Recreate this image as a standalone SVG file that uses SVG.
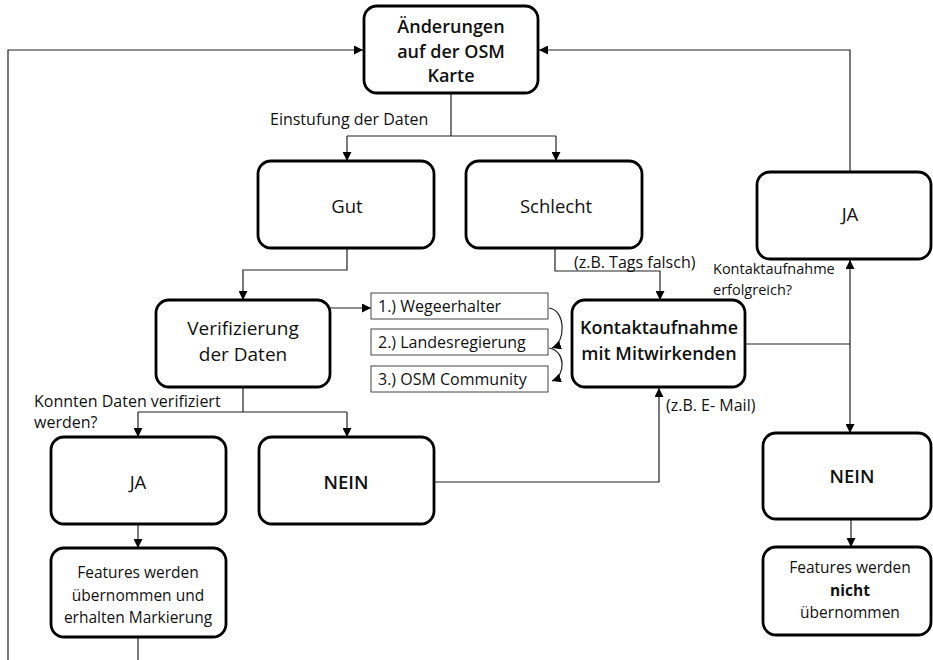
<svg xmlns="http://www.w3.org/2000/svg" width="933" height="660" viewBox="0 0 933 660">
<defs>
<marker id="ah" viewBox="0 0 10 10" refX="10" refY="5" markerWidth="9" markerHeight="9" markerUnits="userSpaceOnUse" orient="auto">
<path d="M0,0 L10,5 L0,10 z" fill="#000"/>
</marker>
<style>
.node{fill:#fff;stroke:#000;stroke-width:2.8}
.small{fill:#fff;stroke:#444;stroke-width:1}
.con{fill:none;stroke:#222;stroke-width:1.2}
.arr{marker-end:url(#ah)}
text{font-family:"Open Sans","Liberation Sans",sans-serif;fill:#111}
.t18{font-size:18px;text-anchor:middle}
.t19{font-size:19px;text-anchor:middle}
.tb{font-weight:600}
.t17{font-size:18.5px;text-anchor:middle}
.lab{font-size:16px}
.lab2{font-size:14.5px}
.bx{font-size:16px}
.ft{font-size:15.5px;text-anchor:middle}
</style>
</defs>
<rect width="933" height="660" fill="#fff"/>
<g id="connectors">
<path class="con" d="M138,637 V660"/>
<path class="con arr" d="M8,660 V50 H363"/>
<path class="con arr" d="M850,172 V50 H539"/>
<path class="con" d="M451,93 V136 M347,136 H556"/>
<path class="con arr" d="M347,136 V161"/>
<path class="con arr" d="M556,136 V161"/>
<path class="con arr" d="M347,248 V270 H243 V300"/>
<path class="con arr" d="M555,248 V271 H660 V300"/>
<path class="con arr" d="M330,308 H371"/>
<path class="con arr" d="M549,308 C566,310 566,343 552,348"/>
<path class="con arr" d="M549,348 C566,351 566,376 552,381"/>
<path class="con" d="M243,387 V412 M138,412 H347"/>
<path class="con arr" d="M138,412 V437"/>
<path class="con arr" d="M347,412 V437"/>
<path class="con arr" d="M434,482 H659 V388"/>
<path class="con" d="M745,344 H850"/>
<path class="con arr" d="M850,344 V260"/>
<path class="con arr" d="M850,344 V433"/>
<path class="con arr" d="M138,524 V548"/>
<path class="con arr" d="M851,519 V547"/>
</g>
<g id="n_aenderungen">
<rect class="node" x="364" y="6" width="174" height="87" rx="13"/>
<text class="t18 tb" x="451" y="33">Änderungen</text>
<text class="t18 tb" x="451" y="58">auf der OSM</text>
<text class="t18 tb" x="451" y="82">Karte</text>
</g>
<text class="lab" x="270" y="125">Einstufung der Daten</text>
<g id="n_gut">
<rect class="node" x="258" y="161" width="176" height="87" rx="13"/>
<text class="t17" x="347" y="213">Gut</text>
</g>
<g id="n_schlecht">
<rect class="node" x="466" y="161" width="176" height="87" rx="13"/>
<text class="t17" x="556" y="213">Schlecht</text>
</g>
<text class="lab" x="574" y="268">(z.B. Tags falsch)</text>
<g id="n_ja_right">
<rect class="node" x="757" y="172" width="174" height="87" rx="13"/>
<text class="t17" x="850" y="221">JA</text>
</g>
<text class="lab2" x="713" y="274">Kontaktaufnahme</text>
<text class="lab2" x="713" y="295">erfolgreich?</text>
<g id="n_verifizierung">
<rect class="node" x="156" y="300" width="174" height="87" rx="13"/>
<text class="t19" x="243" y="335">Verifizierung</text>
<text class="t19" x="243" y="361">der Daten</text>
</g>
<g id="n_wegeerhalter">
<rect class="small" x="371" y="293" width="177" height="26"/>
<text class="bx" x="378" y="312">1.) Wegeerhalter</text>
</g>
<g id="n_landesregierung">
<rect class="small" x="371" y="329" width="177" height="26"/>
<text class="bx" x="378" y="348">2.) Landesregierung</text>
</g>
<g id="n_community">
<rect class="small" x="371" y="366" width="177" height="26"/>
<text class="bx" x="378" y="385">3.) OSM Community</text>
</g>
<g id="n_kontakt">
<rect class="node" x="572" y="300" width="173" height="87" rx="13"/>
<text class="t18 tb" x="659" y="334">Kontaktaufnahme</text>
<text class="t18 tb" x="659" y="360">mit Mitwirkenden</text>
</g>
<text class="lab" x="666" y="411">(z.B. E- Mail)</text>
<text class="lab" x="34" y="407">Konnten Daten verifiziert</text>
<text class="lab" x="34" y="428">werden?</text>
<g id="n_ja_left">
<rect class="node" x="51" y="437" width="175" height="87" rx="13"/>
<text class="t17" x="138" y="489">JA</text>
</g>
<g id="n_nein_left">
<rect class="node" x="259" y="437" width="175" height="87" rx="13"/>
<text class="t17 tb" x="346" y="489">NEIN</text>
</g>
<g id="n_nein_right">
<rect class="node" x="763" y="433" width="168" height="86" rx="13"/>
<text class="t17 tb" x="852" y="483">NEIN</text>
</g>
<g id="n_features_ja">
<rect class="node" x="51" y="548" width="175" height="89" rx="13"/>
<text class="ft" x="138" y="578">Features werden</text>
<text class="ft" x="138" y="601">übernommen und</text>
<text class="ft" x="138" y="623">erhalten Markierung</text>
</g>
<g id="n_features_nicht">
<rect class="node" x="763" y="547" width="168" height="88" rx="13"/>
<text class="ft" x="850" y="573">Features werden</text>
<text class="ft" x="850" y="596" font-weight="700">nicht</text>
<text class="ft" x="850" y="618">übernommen</text>
</g>
</svg>
